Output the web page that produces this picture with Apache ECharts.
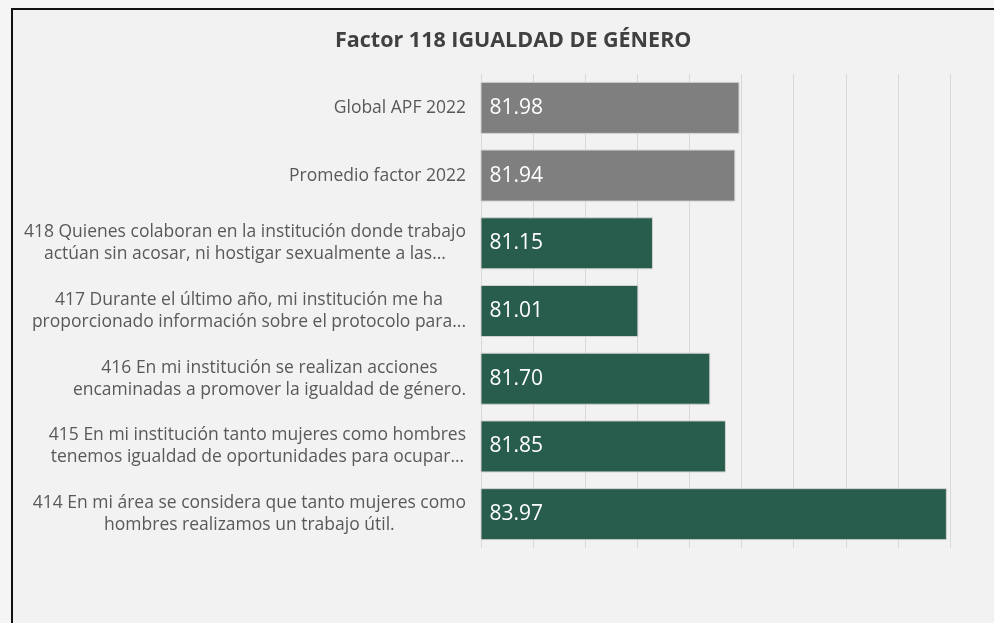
<!DOCTYPE html>
<html>
<head>
<meta charset="utf-8">
<script src="https://cdn.jsdelivr.net/npm/echarts@6/dist/echarts.min.js"></script>
<style>
  html, body { margin: 0; padding: 0; }
  #chartBar { width: 994px; height: 623px; }
</style>
</head>
<body>
<div id="chartBar"></div>
<script>
// categories from top to bottom
var categories = [
  'Global APF 2022',
  'Promedio factor 2022',
  '418 Quienes colaboran en la institución donde trabajo\nactúan sin acosar, ni hostigar sexualmente a las...',
  '417 Durante el último año, mi institución me ha\nproporcionado información sobre el protocolo para...',
  '416 En mi institución se realizan acciones\nencaminadas a promover la igualdad de género.',
  '415 En mi institución tanto mujeres como hombres\ntenemos igualdad de oportunidades para ocupar...',
  '414 En mi área se considera que tanto mujeres como\nhombres realizamos un trabajo útil.'
]
var values = [81.98, 81.94, 81.15, 81.01, 81.70, 81.85, 83.97]
var barColors = ['#7f7f7f', '#7f7f7f', '#285c4d', '#285c4d', '#285c4d', '#285c4d', '#285c4d']

var seriesData = values.map(function (v, i) {
  return { value: v, itemStyle: { color: barColors[i] } }
})

var option = {
  backgroundColor: '#f5f5f5',
  textStyle: { fontFamily: 'Open Sans' },
  title: {
    text: 'Factor 118 IGUALDAD DE GÉNERO',
    left: 330,
    top: 25,
    textStyle: { fontSize: 21.5, fontWeight: 'bold', color: '#404040', fontFamily: 'Open Sans' }
  },
  graphic: [
    {
      type: 'rect',
      z: -10,
      silent: true,
      shape: { x: 12, y: 9, width: 1000, height: 700 },
      style: { fill: '#f2f2f2', stroke: '#111', lineWidth: 2 }
    }
  ],
  grid: { left: 481, right: 44, top: 74, bottom: 75 },
  xAxis: {
    type: 'value',
    min: 79.5,
    max: 84,
    interval: 0.5,
    axisLabel: { show: false },
    axisLine: { show: false },
    axisTick: { show: false },
    splitLine: { show: true, lineStyle: { color: '#d9d9d9', width: 1 } }
  },
  yAxis: {
    type: 'category',
    inverse: true,
    data: categories,
    axisLine: { show: false },
    axisTick: { show: false },
    axisLabel: {
      margin: 15,
      color: '#595959',
      fontSize: 17.5,
      lineHeight: 22,
      formatter: function (val) {
        return val.split('\n').map(function (s) { return '{c|' + s + '}' }).join('\n')
      },
      rich: {
        c: { align: 'center', color: '#595959', fontSize: 17.5, lineHeight: 22, fontFamily: 'Open Sans' }
      }
    }
  },
  series: [
    {
      type: 'bar',
      barWidth: 52,
      data: seriesData,
      itemStyle: { borderColor: '#d0d0d0', borderWidth: 1 },
      label: {
        show: true,
        position: 'insideLeft',
        distance: 9,
        color: '#ffffff',
        fontSize: 21,
        fontFamily: 'Open Sans',
        formatter: function (p) { return p.value.toFixed(2) }
      }
    }
  ]
}

var myChart = echarts.init(document.getElementById('chartBar'))
myChart.setOption(option)
window.addEventListener('resize', function () {
  myChart.resize()
})
</script>
</body>
</html>
